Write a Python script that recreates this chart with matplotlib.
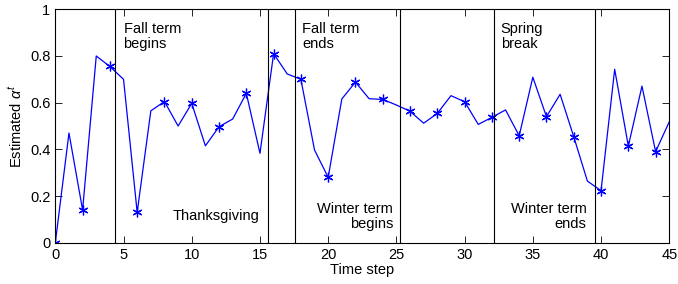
import numpy as np
import matplotlib
matplotlib.use("Agg")
import matplotlib.pyplot as plt

plt.rcParams['font.family'] = ['Liberation Sans', 'DejaVu Sans']
plt.rcParams['mathtext.fontset'] = 'custom'
plt.rcParams['mathtext.rm'] = 'Liberation Sans'
plt.rcParams['mathtext.it'] = 'Liberation Sans:italic'

# Estimated alpha per time step
steps = list(range(46))
alpha = [0.0, 0.47, 0.14, 0.80, 0.755, 0.70, 0.13, 0.565, 0.605, 0.50,
         0.597, 0.415, 0.497, 0.53, 0.64, 0.383, 0.81, 0.723, 0.70, 0.397,
         0.28, 0.616, 0.688, 0.617, 0.614, 0.59, 0.563, 0.512, 0.554, 0.63,
         0.604, 0.507, 0.537, 0.569, 0.458, 0.709, 0.54, 0.636, 0.454, 0.264,
         0.223, 0.743, 0.414, 0.671, 0.39, 0.518]

# Event markers
event_x = [4.4, 15.58, 17.58, 25.28, 32.14, 39.56]
top_labels = [(5.0, "Fall term\nbegins"), (18.1, "Fall term\nends"), (32.65, "Spring\nbreak")]
bottom_labels = [(15.0, 0.085, "Thanksgiving"), (24.75, 0.05, "Winter term\nbegins"),
                 (38.95, 0.05, "Winter term\nends")]

fig = plt.figure(figsize=(6.78, 2.84), dpi=100)
ax = fig.add_axes([0.0816, 0.1454, 0.9055, 0.8218])

ax.plot(steps, alpha, color="#0000ff", lw=0.9)
ax.plot(steps[::2], alpha[::2], linestyle="none", marker=(6, 2, 0),
        markersize=7, markeredgewidth=0.9, color="#0000ff")

for x in event_x:
    ax.axvline(x, color="black", lw=0.8)

for x, s in top_labels:
    ax.text(x, 0.945, s, ha="left", va="top", fontsize=10.5, linespacing=1.05)
for x, y, s in bottom_labels:
    ax.text(x, y, s, ha="right", va="bottom", fontsize=10.5, linespacing=1.05)

ax.set_xlim(0, 45)
ax.set_ylim(0, 1)
ax.set_xticks(range(0, 46, 5))
ax.set_yticks([0, 0.2, 0.4, 0.6, 0.8, 1])
ax.set_yticklabels(["0", "0.2", "0.4", "0.6", "0.8", "1"])
ax.tick_params(direction="in", top=True, right=True, length=5, width=0.6, labelsize=10.5)
for sp in ax.spines.values():
    sp.set_linewidth(0.8)

ax.set_xlabel("Time step", fontsize=10.5, labelpad=1)
ax.set_ylabel(r"Estimated $\alpha^t$", fontsize=10.5, labelpad=4)

fig.savefig("out.png", dpi=100)
